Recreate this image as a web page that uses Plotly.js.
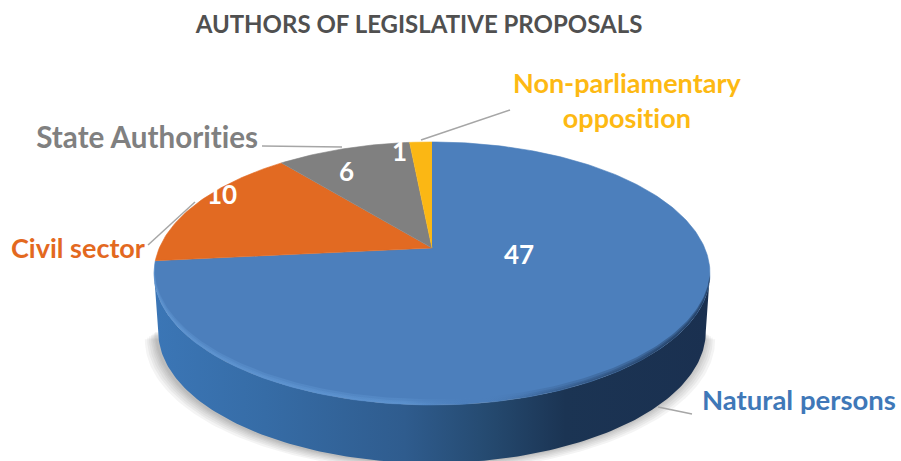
<!DOCTYPE html>
<html>
<head>
<meta charset="utf-8">
<script src="https://cdn.plot.ly/plotly-3.0.1.min.js"></script>
<style>
html,body{margin:0;padding:0;background:#fff}
#chart{width:901px;height:461px}
#chart text{font-variant-ligatures:none !important;font-feature-settings:"liga" 0,"clig" 0 !important}
</style>
</head>
<body>
<div id="chart"></div>
<script>
// Authors of legislative proposals, counted per category
const categories = ['Natural persons', 'Civil sector', 'State Authorities', 'Non-parliamentary opposition'];
const proposals = [47, 10, 6, 1];
const sliceColors = ['#4c7fbc', '#e26a22', '#808080', '#fbb714'];
const labelColors = ['#3f78b8', '#e3691f', '#808080', '#fdb913'];
const chartTitle = 'AUTHORS OF LEGISLATIVE PROPOSALS';

// Screen placement of the tilted disc; axes run in pixels
const W = 901, H = 461, CX = 432, CY = 248, A = 78.5, C = -0.1939, D = 272.7;
const DEPTH = 58, SHRINK = 0.985;

// Perspective projection of a point on the disc: deg runs clockwise from 12 o'clock
function project(deg, r) {
  const t = deg * Math.PI / 180;
  const u = r * Math.sin(t), v = -r * Math.cos(t);
  const w = 1 + C * v;
  return [CX + D * u / w, (CY + A * v) / w];
}
function lower(p) { return [CX + (p[0] - CX) * SHRINK, p[1] + DEPTH]; }
function arc(from, to, r, map) {
  const pts = [], n = Math.max(2, Math.ceil(Math.abs(to - from)));
  for (let i = 0; i <= n; i++) {
    const p = project(from + (to - from) * i / n, r);
    pts.push(map ? map(p) : p);
  }
  return pts;
}
function polygon(pts, extra) {
  return Object.assign({
    type: 'scatter', mode: 'lines', fill: 'toself', hoverinfo: 'skip', showlegend: false,
    x: pts.map(p => p[0]), y: pts.map(p => p[1]), line: {width: 0}
  }, extra);
}

// Angles at which the disc outline reaches its rightmost and leftmost points
let rightDeg = 90, leftDeg = 270;
for (let d = 0; d < 360; d += 1) {
  if (project(d, 1)[0] > project(rightDeg, 1)[0]) rightDeg = d;
  if (project(d, 1)[0] < project(leftDeg, 1)[0]) leftDeg = d;
}

const traces = [];

// Soft shadow below the disc: nested translucent outlines, front half only
[15, 12, 9.5, 7, 5, 3, 1.5].forEach(g => {
  const pts = arc(rightDeg, leftDeg, 1, p => {
    const q = lower(p);
    return [CX - 2 + (q[0] - CX) * (1 + g * 0.75 / 272), q[1] + g * 0.55];
  });
  traces.push(polygon(pts, {fillcolor: 'rgba(70,70,70,0.06)'}));
});

// Side wall between the two extreme points of the outline
const sideTop = arc(rightDeg, leftDeg, 1);
const sideBottom = arc(leftDeg, rightDeg, 1, lower);
traces.push(polygon(sideTop.concat(sideBottom), {
  fillgradient: {
    type: 'horizontal',
    colorscale: [[0, '#3b76b6'], [0.2, '#366ca6'], [0.45, '#2f5c8e'], [0.6, '#254a70'], [0.74, '#1b3453'], [1, '#1a3050']]
  }
}));

// Slices on the top face, angles derived from the counts
const total = proposals.reduce((a, b) => a + b, 0);
let start = 0;
const spans = proposals.map(value => {
  const span = {from: start, to: start + value / total * 360};
  start = span.to;
  return span;
});
spans.forEach((s, i) => {
  const pts = [project(0, 0)].concat(arc(s.from, s.to, 1));
  traces.push(polygon(pts, {
    name: categories[i],
    fillcolor: sliceColors[i],
    line: {width: 0.6, color: sliceColors[i]}
  }));
});

// Tapered bevel along the front rim of the top face
function crescent(from, to, width) {
  const outer = arc(from, to, 1);
  const n = outer.length - 1, inner = [];
  for (let i = n; i >= 0; i--) {
    const f = i / n;
    inner.push(project(from + (to - from) * f, 1 - width * Math.sin(Math.PI * f)));
  }
  return outer.concat(inner);
}
[0.03, 0.018, 0.009].forEach(width => {
  traces.push(polygon(crescent(100, 264, width), {
    fillgradient: {
      type: 'horizontal',
      colorscale: [
        [0, 'rgba(100,155,215,0.35)'], [0.45, 'rgba(100,155,215,0.3)'],
        [0.58, 'rgba(76,127,188,0)'], [0.7, 'rgba(30,55,90,0.12)'], [1, 'rgba(25,48,80,0.45)']
      ]
    }
  }));
});

// Leader lines from the outer labels to their slices
const leaderX = [[658, 692], [148, 195], [262, 342], [421, 510]];
const leaderY = [[407, 414], [245, 202], [146, 147], [140, 110]];
leaderX.forEach((xs, i) => traces.push({
  type: 'scatter', mode: 'lines', x: xs, y: leaderY[i], hoverinfo: 'skip', showlegend: false,
  line: {color: '#a6a6a6', width: 1.5}
}));

// Text placement
const FONT = 'Lato, Carlito, sans-serif';
const outerLabelX = [799, 78, 147, 627];
const outerLabelY = [399, 247, 136, 100];
const outerLabelSize = [27.5, 27, 29.6, 27];
const outerLabelText = [categories[0], categories[1], categories[2], 'Non-parliamentary<br>opposition'];
const valueLabelX = [519, 222, 346, 399];
const valueLabelY = [254, 194, 171, 151];

const annotations = [];
outerLabelText.forEach((text, i) => annotations.push({
  x: outerLabelX[i], y: outerLabelY[i], xref: 'x', yref: 'y', text: '<b>' + text + '</b>',
  showarrow: false, xanchor: 'center', yanchor: 'middle', align: 'center',
  bgcolor: i === 0 ? '#ffffff' : 'rgba(0,0,0,0)',
  font: {family: FONT, size: outerLabelSize[i], color: labelColors[i]}
}));
proposals.forEach((value, i) => annotations.push({
  x: valueLabelX[i], y: valueLabelY[i], xref: 'x', yref: 'y', text: '<b>' + value + '</b>',
  showarrow: false, xanchor: 'center', yanchor: 'middle',
  font: {family: FONT, size: 26, color: '#ffffff'}
}));

const hiddenAxis = {visible: false, fixedrange: true, showgrid: false, zeroline: false};
Plotly.newPlot('chart', traces, {
  width: W, height: H,
  margin: {l: 0, r: 0, t: 0, b: 0},
  paper_bgcolor: '#ffffff', plot_bgcolor: '#ffffff',
  showlegend: false,
  title: {
    text: '<b>' + chartTitle + '</b>', x: 419 / W, y: 1 - 25 / H, xanchor: 'center', yanchor: 'middle',
    font: {family: FONT, size: 24, color: '#505050'}
  },
  xaxis: Object.assign({range: [0, W]}, hiddenAxis),
  yaxis: Object.assign({range: [H, 0]}, hiddenAxis),
  annotations: annotations
}, {displayModeBar: false, staticPlot: true});
</script>
</body>
</html>
